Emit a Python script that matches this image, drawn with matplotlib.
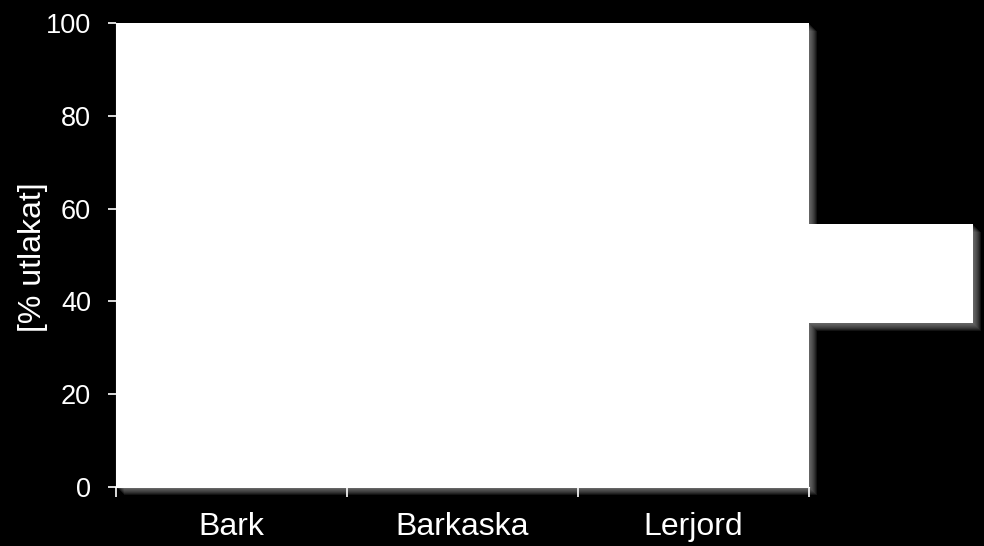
import matplotlib
matplotlib.use("Agg")
import matplotlib.pyplot as plt
from matplotlib.patches import Rectangle

# Data: three categories; the series are drawn in white on a white plot area,
# so no bar can be read off the picture
categories = ['Bark', 'Barkaska', 'Lerjord']
y_ticks = [0, 20, 40, 60, 80, 100]

plt.rcParams['font.family'] = ['Liberation Sans', 'DejaVu Sans']

W, H = 984, 546
fig = plt.figure(figsize=(W / 100, H / 100), dpi=100, facecolor='black')

# plot area in pixels
left, right, top, bottom = 116, 809, 23, 487
ax = fig.add_axes([left / W, 1 - bottom / H, (right - left) / W, (bottom - top) / H])
ax.set_facecolor('white')

# legend box (empty, white) in pixels
lg_l, lg_r, lg_t, lg_b = 809, 973, 224, 323


def shadow(x0, y0, x1, y1):
    # soft grey shadow to the right and below a box given in pixels
    for i in range(1, 9):
        fig.patches.append(Rectangle(((x0 + i) / W, 1 - (y1 + i) / H),
                                     (x1 - x0) / W, (y1 - y0) / H,
                                     transform=fig.transFigure, facecolor='#9a9a9a',
                                     edgecolor='none', alpha=0.13, zorder=-2))


shadow(left, top, right, bottom)
shadow(lg_l, lg_t, lg_r, lg_b)
fig.patches.append(Rectangle((lg_l / W, 1 - lg_b / H), (lg_r - lg_l) / W, (lg_b - lg_t) / H,
                             transform=fig.transFigure, facecolor='white',
                             edgecolor='none', zorder=-1))

ax.set_xlim(0, len(categories))
ax.set_ylim(0, 100)
ax.set_yticks(y_ticks)
ax.tick_params(axis='y', colors='white', labelsize=19.5, length=6, width=1.2, pad=12)

ax.set_xticks(range(len(categories) + 1))
ax.set_xticklabels([])
ax.set_xticks([i + 0.5 for i in range(len(categories))], minor=True)
ax.set_xticklabels(categories, minor=True)
ax.tick_params(axis='x', which='major', colors='white', length=7, width=1.2)
ax.tick_params(axis='x', which='minor', colors='white', length=0, labelsize=23, pad=18)

for s in ['top', 'right']:
    ax.spines[s].set_visible(False)
for s in ['left', 'bottom']:
    ax.spines[s].set_color('white')

ax.set_ylabel('[% utlakat]', color='white', fontsize=23)
ax.yaxis.set_label_coords(-0.098, 0.496)

fig.savefig('out.png', dpi=100, facecolor='black')
